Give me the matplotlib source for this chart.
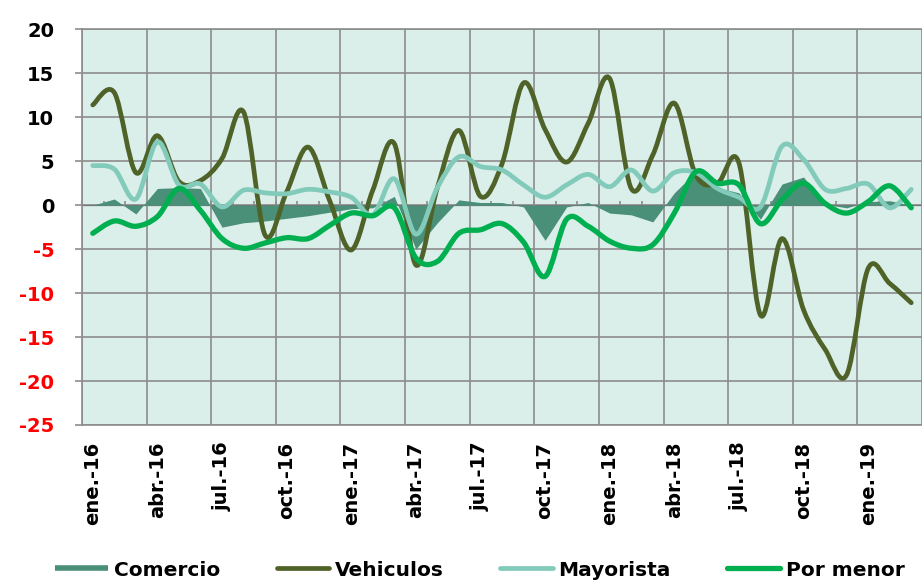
import numpy as np
import matplotlib.pyplot as plt
from matplotlib.path import Path
from matplotlib.patches import PathPatch
from matplotlib.lines import Line2D

plt.rcParams["axes.unicode_minus"] = False

# monthly series, ene-16 .. mar-19
tick_labels = ["ene.-16", "abr.-16", "jul.-16", "oct.-16", "ene.-17", "abr.-17",
               "jul.-17", "oct.-17", "ene.-18", "abr.-18", "jul.-18", "oct.-18",
               "ene.-19"]

comercio = [0.0, 0.7, -1.0, 1.9, 2.0, 1.9, -2.5, -2.0, -1.8, -1.5, -1.2, -0.8, -0.4,
            -0.3, 1.0, -5.0, -2.0, 0.6, 0.3, 0.3, -0.2, -4.0, -0.2, 0.3, -0.9, -1.1,
            -1.9, 1.4, 3.8, 2.0, 1.4, -1.6, 2.4, 3.2, 0.1, -0.3, 0.4, 0.5, 0.0]

vehiculos = [11.4, 12.8, 3.7, 7.9, 2.7, 2.8, 5.3, 10.6, -3.4, 1.5, 6.6, 0.5, -5.1,
             1.7, 7.0, -6.8, 2.0, 8.5, 1.0, 4.7, 13.9, 8.6, 4.9, 9.3, 14.4, 1.9,
             5.7, 11.6, 3.4, 2.5, 4.8, -12.5, -3.8, -11.9, -16.4, -19.3, -7.2,
             -8.9, -11.1]

mayorista = [4.5, 4.1, 0.7, 7.2, 2.3, 2.4, -0.2, 1.7, 1.4, 1.3, 1.8, 1.5, 0.9,
             -1.1, 3.0, -3.3, 2.0, 5.5, 4.4, 4.0, 2.3, 0.9, 2.3, 3.5, 2.1, 4.0,
             1.6, 3.7, 3.7, 1.9, 0.9, -0.2, 6.7, 5.2, 1.8, 1.9, 2.4, -0.3, 1.8]

por_menor = [-3.2, -1.8, -2.4, -1.3, 1.9, -0.6, -3.8, -4.9, -4.3, -3.7, -3.8, -2.3,
             -0.9, -1.2, -0.3, -6.0, -6.4, -3.2, -2.8, -2.1, -4.2, -8.1, -1.6, -2.4,
             -4.1, -4.9, -4.5, -0.9, 3.8, 2.5, 2.3, -2.1, 0.6, 2.5, 0.2, -0.9, 0.4,
             2.2, -0.3]

c_area = "#4a8f78"
c_veh = "#4f6228"
c_may = "#82cbba"
c_men = "#00b050"
c_grid = "#8c8c8c"
c_bg = "#daeeea"


def smooth_path(x, y):
    # smoothed line like the spreadsheet one: bezier segments through every point
    pts = np.column_stack([x, y]).astype(float)
    ext = np.vstack([pts[0], pts, pts[-1]])
    verts = [pts[0]]
    codes = [Path.MOVETO]
    for i in range(len(pts) - 1):
        p0, p1, p2, p3 = ext[i], ext[i + 1], ext[i + 2], ext[i + 3]
        verts += [p1 + (p2 - p0) / 6, p2 - (p3 - p1) / 6, p2]
        codes += [Path.CURVE4] * 3
    return Path(verts, codes)


x = np.arange(len(vehiculos))

fig = plt.figure(figsize=(9.22, 5.81), dpi=100)
ax = fig.add_axes([82 / 922, 1 - 425 / 581, 1 - 82 / 922, (425 - 29.3) / 581])
ax.set_facecolor(c_bg)
ax.set_axisbelow(True)

ax.fill_between(x, comercio, 0, color=c_area, lw=0, zorder=2)
for vals, col, lw in [(vehiculos, c_veh, 3.4), (mayorista, c_may, 3.4), (por_menor, c_men, 3.8)]:
    ax.add_patch(PathPatch(smooth_path(x, vals), fill=False, edgecolor=col, lw=lw,
                           capstyle="round", joinstyle="round", zorder=3))

ax.set_xlim(-0.5, -0.5 + 840 / 21.63)
ax.set_ylim(-25, 20)
ax.set_yticks(np.arange(-25, 21, 5))
ax.set_xticks(np.arange(0, len(x), 3))
ax.set_xticklabels(tick_labels, rotation=90, fontsize=14, fontweight="bold")
ax.set_xticks(np.arange(-0.5, len(x), 3), minor=True)
ax.grid(True, axis="y", color=c_grid, lw=1.2)
ax.grid(True, axis="x", which="minor", color=c_grid, lw=1.2)
ax.tick_params(axis="x", which="both", length=0, pad=12)
ax.tick_params(axis="y", length=5, width=1.2, color=c_grid, pad=15, labelsize=14)
for lab in ax.get_yticklabels():
    lab.set_fontweight("bold")
    lab.set_color("red" if lab.get_text().startswith(("-", "\u2212")) else "black")

for side in ["left", "top", "bottom"]:
    ax.spines[side].set_color(c_grid)
    ax.spines[side].set_linewidth(1.2)
ax.spines["right"].set_visible(False)

# small month ticks on the zero line
zero_ax = ax.secondary_xaxis(25 / 45)
zero_ax.set_xticks(np.arange(-0.5, len(x), 1))
zero_ax.tick_params(length=3, width=1.2, color=c_grid, labelbottom=False, labeltop=False)
zero_ax.spines["bottom"].set_color(c_grid)
zero_ax.spines["bottom"].set_linewidth(1.2)

handles = [
    Line2D([], [], color=c_area, lw=4, solid_capstyle="butt"),
    Line2D([], [], color=c_veh, lw=3.4, solid_capstyle="round"),
    Line2D([], [], color=c_may, lw=3.4, solid_capstyle="round"),
    Line2D([], [], color=c_men, lw=3.8, solid_capstyle="round"),
]
fig.legend(handles, ["Comercio", "Vehiculos", "Mayorista", "Por menor"],
           loc="center", bbox_to_anchor=(480 / 922, 1 - 570 / 581), ncol=4,
           frameon=False, handlelength=2.6, handletextpad=0.3, columnspacing=2.8,
           prop={"weight": "bold", "size": 14.5})

fig.savefig("out.png", dpi=100)
